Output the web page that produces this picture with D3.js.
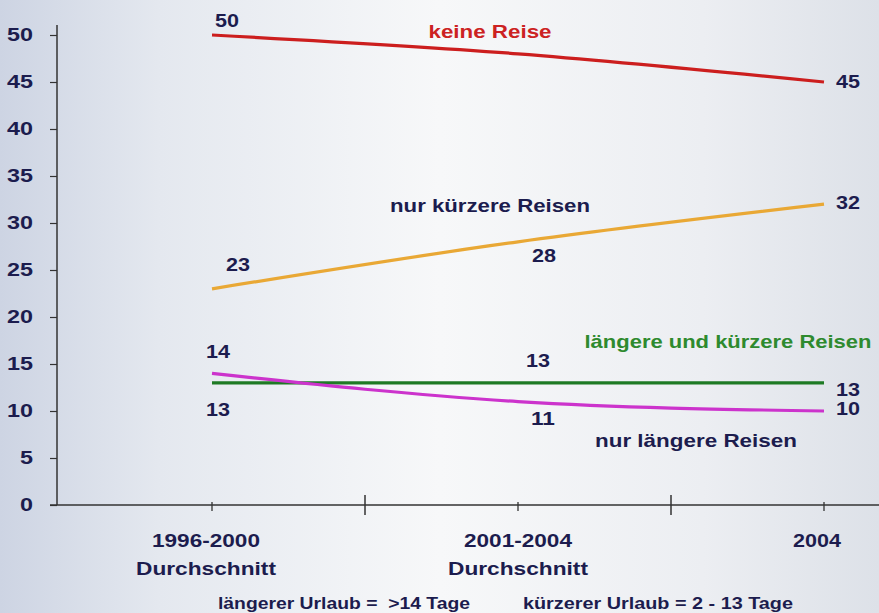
<!DOCTYPE html>
<html>
<head>
<meta charset="utf-8">
<script src="https://cdn.jsdelivr.net/npm/d3@7"></script>
<style>
  html, body { margin: 0; padding: 0; }
  svg { display: block; font-family: "Liberation Sans", Arial, sans-serif; font-weight: bold; }
</style>
</head>
<body>
<svg id="chart" width="879" height="613"></svg>
<script>
// categories on the x axis (two text lines each)
var categories = ['1996-2000', '2001-2004', '2004'];
var categoryNotes = ['Durchschnitt', 'Durchschnitt', ''];

// series values (percent)
var keineReise = [50, 48, 45];
var nurKuerzere = [23, 28, 32];
var laengereUndKuerzere = [13, 13, 13];
var nurLaengere = [14, 11, 10];

// which values get a number label
var keineReiseLabels = [true, false, true];
var nurKuerzereLabels = [true, true, true];
var laengereUndKuerzereLabels = [true, true, true];
var nurLaengereLabels = [true, true, true];

var yTicks = [0, 5, 10, 15, 20, 25, 30, 35, 40, 45, 50];

var svg = d3.select('#chart');
var width = 879, height = 613;

// background gradient
var defs = svg.append('defs');
var grad = defs.append('linearGradient').attr('id', 'bg')
    .attr('x1', '0%').attr('x2', '100%').attr('y1', '0%').attr('y2', '0%');
grad.append('stop').attr('offset', '0%').attr('stop-color', '#cdd4e3');
grad.append('stop').attr('offset', '18%').attr('stop-color', '#e4e8ef');
grad.append('stop').attr('offset', '50%').attr('stop-color', '#f7f8f9');
grad.append('stop').attr('offset', '80%').attr('stop-color', '#eceef2');
grad.append('stop').attr('offset', '100%').attr('stop-color', '#dde1e8');
svg.append('rect').attr('width', width).attr('height', height).attr('fill', 'url(#bg)');

var x = d3.scalePoint().domain(categories).range([212, 824]);
var y = d3.scaleLinear().domain([0, 50]).range([505, 35]);

var navy = '#1c1c4e';

// the original text is wide and heavy: stretch glyphs to the measured widths
function stretch(sel, w) {
  sel.attr('textLength', w).attr('lengthAdjust', 'spacingAndGlyphs');
}

// y axis
var yAxis = d3.axisLeft(y).tickValues(yTicks).tickSize(7).tickPadding(17);
var gy = svg.append('g').attr('transform', 'translate(57,0)').call(yAxis);
gy.select('.domain').attr('d', 'M0,25V' + y(0)).attr('stroke', '#333').attr('stroke-width', 1.5);
gy.selectAll('.tick line').attr('stroke', '#333').attr('stroke-width', 1.2);
gy.selectAll('.tick text').attr('fill', navy).attr('font-size', 18)
    .attr('font-weight', 'bold').attr('font-family', '"Liberation Sans", Arial, sans-serif')
    .attr('textLength', function(d) { return String(d).length * 13; })
    .attr('lengthAdjust', 'spacingAndGlyphs');

// x axis line
svg.append('line').attr('x1', 50).attr('x2', width).attr('y1', y(0)).attr('y2', y(0))
    .attr('stroke', '#333').attr('stroke-width', 1.5);

// minor ticks at categories, major ticks between them
var step = x.step();
svg.selectAll('.minor').data(categories).enter().append('line')
    .attr('x1', function(d) { return x(d); }).attr('x2', function(d) { return x(d); })
    .attr('y1', y(0) - 3).attr('y2', y(0) + 6)
    .attr('stroke', '#333').attr('stroke-width', 1.3);
svg.selectAll('.major').data(categories.slice(0, 2)).enter().append('line')
    .attr('x1', function(d) { return x(d) + step / 2; }).attr('x2', function(d) { return x(d) + step / 2; })
    .attr('y1', y(0) - 10).attr('y2', y(0) + 10)
    .attr('stroke', '#333').attr('stroke-width', 1.5);

// category labels
var labelShift = [-6, 0, -7];
svg.selectAll('.xlab').data(categories).enter().append('text')
    .attr('x', function(d, i) { return x(d) + labelShift[i]; }).attr('y', 547)
    .attr('text-anchor', 'middle').attr('fill', navy).attr('font-size', 18)
    .text(function(d) { return d; })
    .each(function(d) { stretch(d3.select(this), d.length * 12); });
svg.selectAll('.xnote').data(categoryNotes.filter(function(d) { return d; })).enter().append('text')
    .attr('x', function(d, i) { return x(categories[i]) + labelShift[i]; }).attr('y', 575)
    .attr('text-anchor', 'middle').attr('fill', navy).attr('font-size', 18)
    .text(function(d) { return d; })
    .call(stretch, 140);

// lines
var line = d3.line()
    .x(function(d, i) { return x(categories[i]); })
    .y(function(d) { return y(d); })
    .curve(d3.curveMonotoneX);

var series = [
  { values: laengereUndKuerzere, color: '#1e7a24' },
  { values: nurLaengere, color: '#cc33cc' },
  { values: nurKuerzere, color: '#e9a835' },
  { values: keineReise, color: '#cc1e1e' }
];
svg.selectAll('.series').data(series).enter().append('path')
    .attr('d', function(d) { return line(d.values); })
    .attr('fill', 'none')
    .attr('stroke', function(d) { return d.color; })
    .attr('stroke-width', 3.2);

// value labels: offsets per series and point
function valueLabels(values, shown, dx, dy) {
  var pts = values.map(function(v, i) { return { v: v, i: i }; })
      .filter(function(p) { return shown[p.i]; });
  svg.selectAll(null).data(pts).enter()
    .append('text')
    .attr('x', function(p) { return x(categories[p.i]) + dx[p.i]; })
    .attr('y', function(p) { return y(p.v) + dy[p.i]; })
    .attr('text-anchor', 'middle')
    .attr('fill', navy).attr('font-size', 19)
    .text(function(p) { return p.v; })
    .call(stretch, 24);
}
valueLabels(keineReise, keineReiseLabels, [15, 0, 24], [-8, 0, 6]);
valueLabels(nurKuerzere, nurKuerzereLabels, [26, 26, 24], [-18, 20, 5]);
valueLabels(laengereUndKuerzere, laengereUndKuerzereLabels, [6, 20, 24], [33, -16, 13]);
valueLabels(nurLaengere, nurLaengereLabels, [6, 25, 24], [-15, 23, 4]);

// series names
var names = [
  { text: 'keine Reise', x: 490, y: 38, w: 123, color: '#cc2222' },
  { text: 'nur kürzere Reisen', x: 490, y: 212, w: 200, color: navy },
  { text: 'längere und kürzere Reisen', x: 728, y: 348, w: 287, color: '#2e8a2e' },
  { text: 'nur längere Reisen', x: 696, y: 447, w: 202, color: navy }
];
svg.selectAll('.name').data(names).enter().append('text')
    .attr('x', function(d) { return d.x; }).attr('y', function(d) { return d.y; })
    .attr('text-anchor', 'middle').attr('font-size', 19)
    .attr('fill', function(d) { return d.color; })
    .attr('textLength', function(d) { return d.w; })
    .attr('lengthAdjust', 'spacingAndGlyphs')
    .text(function(d) { return d.text; });

// footnote
var notes = [
  { text: 'längerer Urlaub =  >14 Tage', x: 218, w: 252 },
  { text: 'kürzerer Urlaub = 2 - 13 Tage', x: 523, w: 270 }
];
svg.selectAll('.note').data(notes).enter().append('text')
    .attr('x', function(d) { return d.x; }).attr('y', 609)
    .attr('font-size', 17).attr('fill', navy)
    .style('white-space', 'pre')
    .attr('textLength', function(d) { return d.w; })
    .attr('lengthAdjust', 'spacingAndGlyphs')
    .text(function(d) { return d.text; });
</script>
</body>
</html>
